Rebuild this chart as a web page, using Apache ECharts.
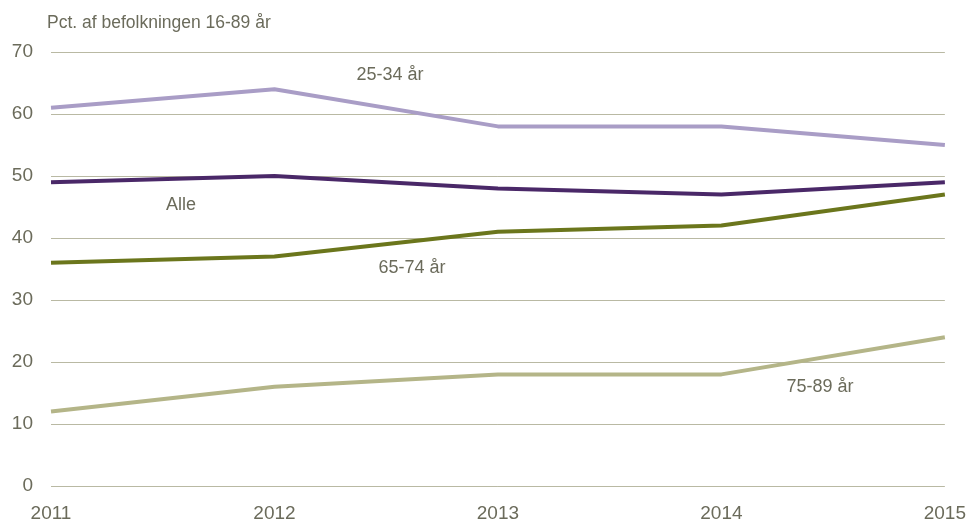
<!DOCTYPE html>
<html>
<head>
<meta charset="utf-8">
<script src="https://cdn.jsdelivr.net/npm/echarts@6/dist/echarts.min.js"></script>
<style>
  html, body { margin: 0; padding: 0; background: #fff; }
  #chart { width: 969px; height: 523px; }
</style>
</head>
<body>
<div id="chart"></div>
<script>
const YEARS = ['2011', '2012', '2013', '2014', '2015'];
const AGE_25_34 = [61, 64, 58, 58, 55];
const ALLE = [49, 50, 48, 47, 49];
const AGE_65_74 = [36, 37, 41, 42, 47];
const AGE_75_89 = [12, 16, 18, 18, 24];

const FONT = '"Liberation Sans", Arial, sans-serif';
const TEXT = '#6b6b5b';

const chart = echarts.init(document.getElementById('chart'), null, { renderer: 'canvas' });

function line(name, data, color) {
  return {
    name, type: 'line', data,
    symbol: 'none',
    lineStyle: { color, width: 4 },
    itemStyle: { color },
    animation: false,
  };
}

// series name tags placed next to their lines
function tag(text, x, y) {
  return {
    type: 'text', x, y,
    style: { text, fill: TEXT, font: '18px ' + FONT, align: 'center', verticalAlign: 'middle' },
  };
}

chart.setOption({
  backgroundColor: '#fff',
  animation: false,
  grid: { top: 52, right: 24, bottom: 37, left: 51 },
  xAxis: {
    type: 'category', data: YEARS, boundaryGap: false,
    axisLine: { show: false },
    axisTick: { show: false },
    axisLabel: { color: TEXT, fontSize: 19, fontFamily: FONT, margin: 18 },
  },
  yAxis: {
    type: 'value', min: 0, max: 70, interval: 10,
    axisLine: { show: false },
    axisTick: { show: false },
    axisLabel: { color: TEXT, fontSize: 19, fontFamily: FONT, margin: 18 },
    splitLine: { lineStyle: { color: '#b9b9a3', width: 1 } },
  },
  series: [
    line('25-34 år', AGE_25_34, '#a99dc6'),
    line('Alle', ALLE, '#4a2868'),
    line('65-74 år', AGE_65_74, '#6b761c'),
    line('75-89 år', AGE_75_89, '#b4b588'),
  ],
  graphic: [
    { type: 'text', x: 47, y: 23,
      style: { text: 'Pct. af befolkningen 16-89 år', fill: TEXT, font: '17.5px ' + FONT, verticalAlign: 'middle' } },
    tag('25-34 år', 390, 75),
    tag('Alle', 181, 205),
    tag('65-74 år', 412, 268),
    tag('75-89 år', 820, 387),
  ],
});
</script>
</body>
</html>
